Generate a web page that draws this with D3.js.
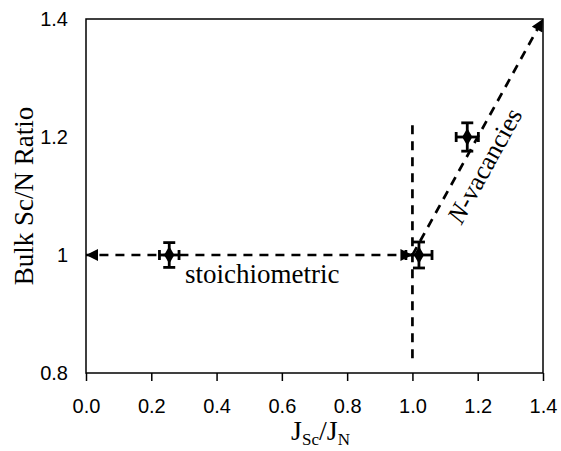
<!DOCTYPE html>
<html><head><meta charset="utf-8">
<script src="https://cdn.jsdelivr.net/npm/d3@7"></script>
<style>body{margin:0;background:#fff}svg{display:block}</style>
</head><body>
<svg id="c" width="561" height="451"></svg>
<script>
// Data
const pointX   = [0.255, 1.02, 1.168];
const pointY   = [1.0, 1.0, 1.2];
const errX     = [0.03, 0.04, 0.034];
const errY     = [0.021, 0.022, 0.024];
const xTicks   = [0.0, 0.2, 0.4, 0.6, 0.8, 1.0, 1.2, 1.4];
const xTickLabels = ["0.0","0.2","0.4","0.6","0.8","1.0","1.2","1.4"];
const yTicks   = [0.8, 1.0, 1.2, 1.4];
const yTickLabels = ["0.8","1","1.2","1.4"];
// guide arrows: [x1,y1,x2,y2]
const stoichArrow = [1.0, 1.0, 0.0, 1.0];
const vertLine    = [1.0, 0.825, 1.0, 1.23];
const vacArrow    = [1.0, 1.0, 1.4, 1.4];

const svg = d3.select("#c");
const L = 86, R = 543, T = 19, B = 373;
const x = d3.scaleLinear().domain([0, 1.4]).range([L, R]);
const y = d3.scaleLinear().domain([0.8, 1.4]).range([B, T]);
const sans = "'Liberation Sans', Arial, sans-serif";
const serif = "'Liberation Serif', 'Times New Roman', serif";

// frame
svg.append("rect").attr("x", L).attr("y", T).attr("width", R - L).attr("height", B - T)
  .attr("fill", "none").attr("stroke", "#000").attr("stroke-width", 1.5);

// x axis
const xa = svg.append("g").attr("transform", `translate(0,${B})`)
  .call(d3.axisBottom(x).tickValues(xTicks).tickSize(8).tickFormat((d, i) => xTickLabels[i]));
xa.select(".domain").remove();
xa.selectAll("line").attr("stroke", "#000").attr("stroke-width", 1.5);
xa.selectAll("text").attr("font-family", sans).attr("font-size", 20).attr("fill", "#000").attr("dy", null).attr("y", 40);

// y axis
const ya = svg.append("g").attr("transform", `translate(${L},0)`)
  .call(d3.axisLeft(y).tickValues(yTicks).tickSize(0).tickPadding(18).tickFormat((d, i) => yTickLabels[i]));
ya.select(".domain").remove();
ya.selectAll("text").attr("font-family", sans).attr("font-size", 20).attr("fill", "#000");

// axis titles
svg.append("text").attr("transform", `translate(33,${(T + B) / 2}) rotate(-90)`)
  .attr("text-anchor", "middle").attr("font-family", serif).attr("font-size", 27).text("Bulk Sc/N Ratio");
const xt = svg.append("text").attr("x", (L + R) / 2 + 6).attr("y", 440).attr("text-anchor", "middle")
  .attr("font-family", serif).attr("font-size", 28);
xt.append("tspan").text("J");
xt.append("tspan").attr("font-size", 17).attr("dy", 5).text("Sc");
xt.append("tspan").attr("dy", -5).text("/J");
xt.append("tspan").attr("font-size", 17).attr("dy", 5).text("N");

// arrowhead markers
const defs = svg.append("defs");
defs.append("marker").attr("id", "ah").attr("viewBox", "0 0 10 10").attr("refX", 10).attr("refY", 5)
  .attr("markerWidth", 14).attr("markerHeight", 12).attr("markerUnits", "userSpaceOnUse").attr("orient", "auto")
  .append("path").attr("d", "M0,0L10,5L0,10Z").attr("fill", "#000");
defs.append("marker").attr("id", "ahs").attr("viewBox", "0 0 10 10").attr("refX", 10).attr("refY", 5)
  .attr("markerWidth", 14).attr("markerHeight", 12).attr("markerUnits", "userSpaceOnUse").attr("orient", "auto-start-reverse")
  .append("path").attr("d", "M0,0L10,5L0,10Z").attr("fill", "#000");

const dash = "9,7";
function seg(a, startMarker, endMarker) {
  const l = svg.append("line").attr("x1", x(a[0])).attr("y1", y(a[1])).attr("x2", x(a[2])).attr("y2", y(a[3]))
    .attr("stroke", "#000").attr("stroke-width", 2.7).attr("stroke-dasharray", dash);
  if (endMarker) l.attr("marker-end", "url(#ah)");
  if (startMarker) l.attr("marker-start", "url(#ahs)");
  return l;
}

seg(stoichArrow, true, true);
seg(vertLine, false, false);
seg(vacArrow, false, true);

// data points with error bars
const pts = pointX.map((v, i) => ({ x: v, y: pointY[i], ex: errX[i], ey: errY[i] }));
const g = svg.append("g").attr("stroke", "#000").attr("stroke-width", 2.8);
pts.forEach(p => {
  const cx = x(p.x), cy = y(p.y);
  g.append("line").attr("x1", x(p.x - p.ex)).attr("x2", x(p.x + p.ex)).attr("y1", cy).attr("y2", cy);
  g.append("line").attr("x1", cx).attr("x2", cx).attr("y1", y(p.y - p.ey)).attr("y2", y(p.y + p.ey));
  g.append("line").attr("x1", cx - 6).attr("x2", cx + 6).attr("y1", y(p.y - p.ey)).attr("y2", y(p.y - p.ey));
  g.append("line").attr("x1", cx - 6).attr("x2", cx + 6).attr("y1", y(p.y + p.ey)).attr("y2", y(p.y + p.ey));
  g.append("line").attr("x1", x(p.x - p.ex)).attr("x2", x(p.x - p.ex)).attr("y1", cy - 5).attr("y2", cy + 5);
  g.append("line").attr("x1", x(p.x + p.ex)).attr("x2", x(p.x + p.ex)).attr("y1", cy - 5).attr("y2", cy + 5);
  svg.append("path").attr("transform", `translate(${cx},${cy})`)
    .attr("d", d3.symbol().type(d3.symbolDiamond).size(90)()).attr("fill", "#000");
});

// annotations
svg.append("text").attr("x", x(0.303)).attr("y", y(0.952)).attr("font-family", serif).attr("font-size", 27)
  .text("stoichiometric");
const vt = svg.append("text").attr("transform", `translate(${x(1.15)},${y(1.05)}) rotate(-61)`)
  .attr("font-family", serif).attr("font-size", 26);
vt.append("tspan").attr("font-style", "italic").text("N");
vt.append("tspan").text("-vacancies");
</script>
</body></html>
